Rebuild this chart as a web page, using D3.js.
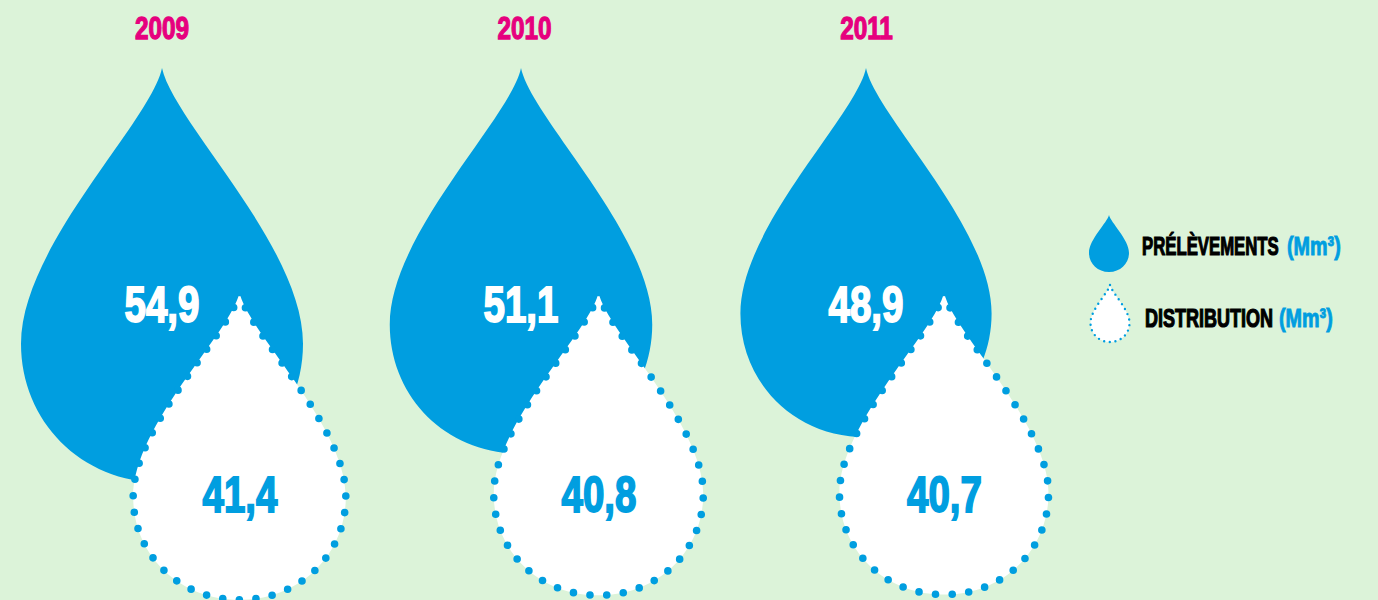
<!DOCTYPE html>
<html>
<head>
<meta charset="utf-8">
<script src="https://cdn.jsdelivr.net/npm/d3@7"></script>
<style>
  body { margin: 0; background: #dcf3d9; }
  text { font-family: "Liberation Sans", sans-serif; font-weight: 700; }
</style>
</head>
<body>
<svg id="chart" width="1378" height="600"></svg>
<script>
var years = ["2009", "2010", "2011"];
var prelevements = [54.9, 51.1, 48.9];
var distribution = [41.4, 40.8, 40.7];
var legendLabels = ["PRÉLÈVEMENTS", "DISTRIBUTION"];
var legendUnit = "(Mm³)";

var BLUE = "#009ee0", PINK = "#e6007e";

var svg = d3.select("#chart");

// drop width follows the value, same scale for both series
var size = d3.scaleLinear().domain([0, 54.9]).range([0, 282]);
var xBlue = d3.scaleOrdinal().domain(years).range([162, 521, 866]);
var xWhite = d3.scaleOrdinal().domain(years).range([239.5, 598.5, 944]);
var xYear = d3.scaleOrdinal().domain(years).range([162, 524.5, 866.5]);

var fr = function (v) { return String(v.toFixed(1)).replace(".", ","); };

// drop outline, starts at the tip and goes clockwise
var dropPath = function (cx, top, w, h) {
  var p = d3.path();
  var X = function (f) { return cx + f * w; };
  var Y = function (f) { return top + f * h; };
  p.moveTo(X(0), Y(0));
  p.bezierCurveTo(X(0.04), Y(0.13), X(0.5), Y(0.43), X(0.5), Y(0.665));
  p.bezierCurveTo(X(0.5), Y(0.85), X(0.29), Y(1), X(0), Y(1));
  p.bezierCurveTo(X(-0.29), Y(1), X(-0.5), Y(0.85), X(-0.5), Y(0.665));
  p.bezierCurveTo(X(-0.5), Y(0.43), X(-0.04), Y(0.13), X(0), Y(0));
  p.closePath();
  return p.toString();
};

var drawDotted = function (sel, gap, dot) {
  sel.attr("fill", "#fff")
    .attr("stroke", BLUE)
    .attr("stroke-width", dot)
    .attr("stroke-linecap", "round")
    .each(function () {
      var len = this.getTotalLength();
      var n = Math.round(len / gap);
      d3.select(this).attr("stroke-dasharray", "0 " + (len / n));
    });
};

///////////////////////////////////////////////////////////////////////////////
// Drops

svg.selectAll("path.prelev")
  .data(years)
  .enter().append("path")
  .attr("class", "prelev")
  .attr("fill", BLUE)
  .attr("d", function (y, i) {
    var w = size(prelevements[i]);
    return dropPath(xBlue(y), 68, w, w * 1.47);
  });

svg.selectAll("path.distrib")
  .data(years)
  .enter().append("path")
  .attr("class", "distrib")
  .attr("d", function (y, i) {
    var w = size(distribution[i]);
    return dropPath(xWhite(y), 292.5, w, w * 1.445);
  })
  .call(drawDotted, 16.6, 7.6);

///////////////////////////////////////////////////////////////////////////////
// Labels

// no condensed font here, so squeeze the bold one horizontally
var label = function (x, y, txt, fs, fill, anchor, squeeze, sw) {
  return svg.append("text")
    .attr("transform", "translate(" + x + "," + y + ") scale(" + squeeze + ",1)")
    .attr("font-size", fs)
    .attr("fill", fill)
    .attr("stroke", fill)
    .attr("stroke-width", sw)
    .attr("text-anchor", anchor)
    .text(txt);
};

years.forEach(function (y, i) {
  label(xYear(y), 38.5, y, 32, PINK, "middle", 0.76, 1.3);
  label(xBlue(y), 321.5, fr(prelevements[i]), 50, "#fff", "middle", 0.77, 1.8);
  label(xWhite(y) + 0.5, 511.5, fr(distribution[i]), 50, BLUE, "middle", 0.77, 1.8);
});

///////////////////////////////////////////////////////////////////////////////
// Legend

svg.append("path").attr("fill", BLUE).attr("d", dropPath(1109, 215, 40, 57));
svg.append("path").attr("d", dropPath(1110, 285, 39, 57)).call(drawDotted, 5.6, 2.4);

label(1142, 255, legendLabels[0], 25, "#000", "start", 0.67, 1.2);
label(1287, 255, legendUnit, 25, BLUE, "start", 0.79, 0.9);
label(1145, 327, legendLabels[1], 25, "#000", "start", 0.72, 1.2);
label(1279, 327, legendUnit, 25, BLUE, "start", 0.79, 0.9);
</script>
</body>
</html>
